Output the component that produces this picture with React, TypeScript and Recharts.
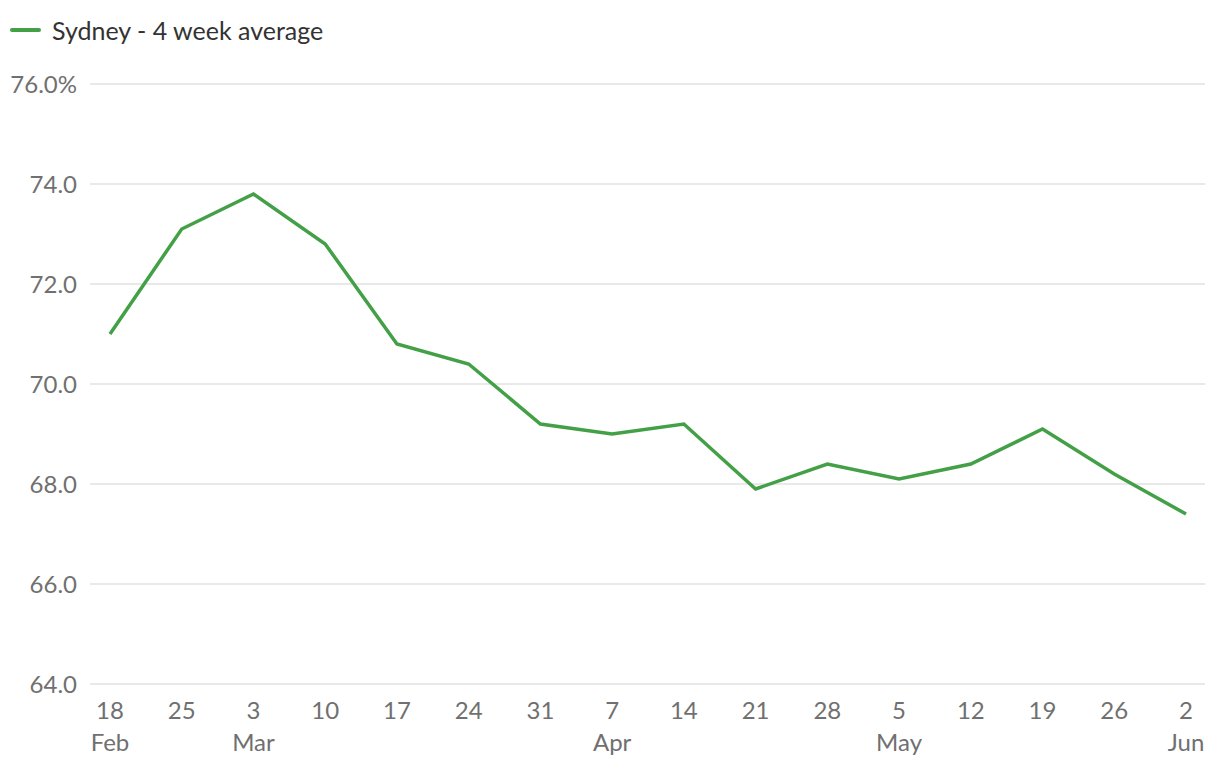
import { LineChart, Line, XAxis, YAxis, CartesianGrid, Legend } from 'recharts'

const days = ['18', '25', '3', '10', '17', '24', '31', '7', '14', '21', '28', '5', '12', '19', '26', '2']
const months = ['Feb', '', 'Mar', '', '', '', '', 'Apr', '', '', '', 'May', '', '', '', 'Jun']
const sydney = [71.0, 73.1, 73.8, 72.8, 70.8, 70.4, 69.2, 69.0, 69.2, 67.9, 68.4, 68.1, 68.4, 69.1, 68.2, 67.4]
const yTicks = [64, 66, 68, 70, 72, 74, 76]

const data = days.map((d, i) => ({ day: d, month: months[i], key: i, value: sydney[i] }))

const FONT = 'Lato, "Noto Sans", sans-serif'
const GREEN = '#43a047'

const DateTick = (props: any) => {
  const { x, y, index } = props
  return (
    <g>
      <text x={x} y={y} dy={27} textAnchor="middle" fill="#707070" fontSize={24} fontFamily={FONT}>
        {days[index]}
      </text>
      {months[index] && (
        <text x={x} y={y} dy={59} textAnchor="middle" fill="#707070" fontSize={24} fontFamily={FONT}>
          {months[index]}
        </text>
      )}
    </g>
  )
}

const LegendBox = () => (
  <div style={{ display: 'flex', alignItems: 'center', height: 26, fontFamily: FONT, fontSize: 25, color: '#333' }}>
    <span style={{ display: 'inline-block', width: 31, height: 4, background: GREEN, borderRadius: 2, marginRight: 11 }} />
    <span>Sydney - 4 week average</span>
  </div>
)

const App = () => {
  return (
    <div style={{ position: 'absolute', left: 0, top: 0, background: '#fff' }}>
      <LineChart width={1220} height={770} data={data} margin={{ top: 58, right: 15, bottom: 0, left: 0 }}>
        <CartesianGrid horizontal vertical={false} stroke="#e2e2e2" strokeWidth={1.5} />
        <XAxis
          dataKey="key"
          axisLine={false}
          tickLine={false}
          interval={0}
          height={86}
          padding={{ left: 20, right: 19 }}
          tick={<DateTick />}
        />
        <YAxis
          domain={[64, 76]}
          ticks={yTicks}
          axisLine={false}
          tickLine={false}
          width={90}
          tickMargin={7}
          tick={{ fill: '#707070', fontSize: 24, fontFamily: FONT }}
          tickFormatter={(v: number) => (v === 76 ? '76.0%' : v.toFixed(1))}
        />
        <Legend verticalAlign="top" align="left" content={<LegendBox />} wrapperStyle={{ top: 17, left: 10 }} />
        <Line
          type="linear"
          dataKey="value"
          stroke={GREEN}
          strokeWidth={3.5}
          dot={false}
          activeDot={false}
          isAnimationActive={false}
        />
      </LineChart>
    </div>
  )
}

export default App
